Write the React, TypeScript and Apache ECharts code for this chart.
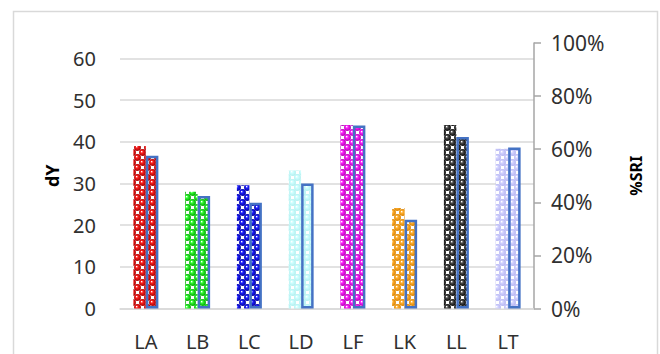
import React, { useEffect, useRef } from "react";
import * as echarts from "echarts";

const categories = ["LA", "LB", "LC", "LD", "LF", "LK", "LL", "LT"];
const dYValues = [39.0, 28.0, 29.6, 33.1, 44.0, 24.1, 44.0, 38.3];
const sriValues = [0.575, 0.424, 0.398, 0.471, 0.689, 0.334, 0.646, 0.606];
const leftTicks = [0, 10, 20, 30, 40, 50, 60];
const rightTicks = [0, 0.2, 0.4, 0.6, 0.8, 1.0];

const patternColors = [
  ["#ff2020", "#a00000", "#ffd0d0"],
  ["#30ff30", "#00a000", "#d0ffd0"],
  ["#2020ff", "#00009a", "#d8d8ff"],
  ["#d0ffff", "#b0eeee", "#eaffff"],
  ["#ff20ff", "#b000b0", "#ffd8ff"],
  ["#ffb030", "#d88000", "#fff0d0"],
  ["#505050", "#000000", "#f0f0f0"],
  ["#d4d4ff", "#b4b4f0", "#eeeeff"],
];

function makePattern(light: string, dark: string, bg: string): HTMLCanvasElement {
  const c = document.createElement("canvas");
  c.width = 10;
  c.height = 10;
  const ctx = c.getContext("2d")!;
  ctx.fillStyle = bg;
  ctx.fillRect(0, 0, 10, 10);
  ctx.fillStyle = "#ffffff";
  ctx.fillRect(6, 1, 3, 3);
  ctx.fillRect(1, 6, 3, 3);
  const centers: number[][] = [];
  for (const [bx, by] of [[2.5, 2.5], [7.5, 7.5]]) {
    for (const dx of [-10, 0, 10]) {
      for (const dy of [-10, 0, 10]) centers.push([bx + dx, by + dy]);
    }
  }
  for (const [cx, cy] of centers) {
    const g = ctx.createRadialGradient(cx - 1, cy - 1, 0.2, cx, cy, 3.6);
    g.addColorStop(0, "#ffffff");
    g.addColorStop(0.3, light);
    g.addColorStop(1, dark);
    ctx.fillStyle = g;
    ctx.beginPath();
    ctx.arc(cx, cy, 3.4, 0, Math.PI * 2);
    ctx.fill();
  }
  return c;
}

export default function App() {
  const ref = useRef<HTMLDivElement>(null);
  useEffect(() => {
    if (!ref.current) return;
    const chart = echarts.init(ref.current, null, { renderer: "svg" });
    const patterns = patternColors.map(([l, d, b]) => makePattern(l, d, b));
    const font = "Noto Sans";
    chart.setOption({
      animation: false,
      backgroundColor: "#ffffff",
      graphic: [
        {
          type: "rect",
          shape: { x: 13.5, y: 11.5, width: 644, height: 360 },
          style: { fill: "none", stroke: "#d9d9d9", lineWidth: 1.5 },
          silent: true,
        },
      ],
      grid: { left: 120, right: 126, top: 43, bottom: 45.5 },
      xAxis: {
        type: "category",
        data: categories,
        axisLine: { show: true, lineStyle: { color: "#d9d9d9", width: 1.5 } },
        axisTick: { show: false },
        axisLabel: { color: "#303030", fontSize: 20, fontFamily: font, margin: 23 },
      },
      yAxis: [
        {
          type: "value",
          min: 0,
          max: 63.7,
          interval: 10,
          name: "dY",
          nameLocation: "middle",
          nameRotate: 90,
          nameGap: 59,
          nameTextStyle: { color: "#000", fontWeight: "bold", fontSize: 18, fontFamily: font },
          axisLine: { show: false },
          axisTick: { show: false },
          axisLabel: {
            color: "#303030",
            fontSize: 20,
            fontFamily: font,
            margin: 24,
            showMaxLabel: false,
            formatter: (v: number) => (leftTicks.includes(v) ? String(v) : ""),
          },
          splitLine: {
            show: true,
            showMaxLine: false,
            lineStyle: { color: "#d9d9d9", width: 1.5 },
          },
        },
        {
          type: "value",
          min: 0,
          max: 1,
          interval: 0.2,
          position: "right",
          name: "%SRI",
          nameLocation: "middle",
          nameRotate: 90,
          nameGap: 94,
          nameTextStyle: { color: "#000", fontWeight: "bold", fontSize: 16, fontFamily: font },
          axisLine: { show: true, lineStyle: { color: "#a6a6a6", width: 1.5 } },
          axisTick: { show: true, inside: false, length: 7, lineStyle: { color: "#a6a6a6", width: 1.5 } },
          axisLabel: {
            color: "#303030",
            fontSize: 21,
            fontFamily: font,
            margin: 17,
            formatter: (v: number) => {
              const t = rightTicks.find((r) => Math.abs(r - v) < 1e-6);
              return t === undefined ? "" : Math.round(t * 100) + "%";
            },
          },
          splitLine: { show: false },
        },
      ],
      series: [
        {
          name: "dY",
          type: "bar",
          yAxisIndex: 0,
          barWidth: 12.5,
          barGap: "0%",
          data: dYValues.map((v, i) => ({
            value: v,
            itemStyle: { color: { image: patterns[i], repeat: "repeat" } },
          })),
        },
        {
          name: "%SRI",
          type: "bar",
          yAxisIndex: 1,
          barWidth: 12.5,
          barGap: "0%",
          data: sriValues.map((v, i) => ({
            value: v,
            itemStyle: {
              color: { image: patterns[i], repeat: "repeat" },
              borderColor: "#4472c4",
              borderWidth: 2.5,
            },
          })),
        },
      ],
    });
    return () => chart.dispose();
  }, []);
  return (
    <div
      ref={ref}
      style={{ position: "fixed", left: 0, top: 0, width: 660, height: 354 }}
    />
  );
}
